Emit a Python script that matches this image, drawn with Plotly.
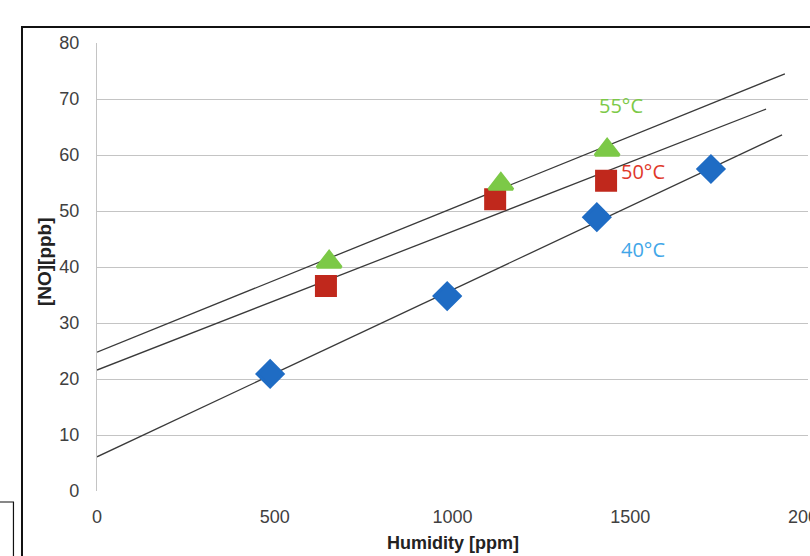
import plotly.graph_objects as go

# ---- data ----
humidity_40 = [487, 985, 1406, 1727]
no_40 = [20.9, 34.8, 48.9, 57.5]
humidity_50 = [644, 1120, 1432]
no_50 = [36.6, 52.1, 55.4]
humidity_55 = [653, 1136, 1435]
no_55 = [40.9, 54.8, 60.9]

# trend lines (start x, end x, start y, end y)
trend_x_40 = [0, 1927]
trend_y_40 = [6.1, 63.6]
trend_x_50 = [0, 1882]
trend_y_50 = [21.6, 68.2]
trend_x_55 = [0, 1935]
trend_y_55 = [24.8, 74.5]

x_ticks = [0, 500, 1000, 1500, 2000]
y_ticks = [0, 10, 20, 30, 40, 50, 60, 70, 80]

labels = ["55°C", "50°C", "40°C"]
label_x = [1475, 1535, 1535]
label_y = [68.8, 57.0, 43.2]

BLUE = "#1f6cc4"
RED = "#c0281c"
GREEN = "#7cc947"

fig = go.Figure()

for tx, ty in [(trend_x_55, trend_y_55), (trend_x_50, trend_y_50), (trend_x_40, trend_y_40)]:
    fig.add_trace(go.Scatter(x=tx, y=ty, mode="lines",
                             line=dict(color="#3a3a3a", width=1.3),
                             showlegend=False, hoverinfo="skip"))

fig.add_trace(go.Scatter(x=humidity_40, y=no_40, mode="markers",
                         marker=dict(symbol="diamond", size=20, color=BLUE,
                                     line=dict(color=BLUE, width=3)),
                         showlegend=False))
fig.add_trace(go.Scatter(x=humidity_50, y=no_50, mode="markers",
                         marker=dict(symbol="square", size=19, color=RED,
                                     line=dict(color=RED, width=3)),
                         showlegend=False))
fig.add_trace(go.Scatter(x=humidity_55, y=no_55, mode="markers",
                         marker=dict(symbol="triangle-up", size=21, color=GREEN,
                                     line=dict(color=GREEN, width=3)),
                         showlegend=False))

label_colors = [GREEN, "#e0382a", "#41a6e8"]
for t, lx, ly, c in zip(labels, label_x, label_y, label_colors):
    fig.add_annotation(x=lx, y=ly, text=t, showarrow=False,
                       font=dict(family="Open Sans", size=20, color=c))

# axis titles
fig.add_annotation(xref="paper", yref="paper", x=0.5, y=-0.115, yanchor="middle",
                   text="<b>Humidity [ppm]</b>", showarrow=False,
                   font=dict(family="Liberation Sans", size=18, color="#222"))
fig.add_annotation(xref="paper", yref="paper", x=-0.0745, y=0.511, xanchor="center",
                   text="<b>[NO][ppb]</b>", textangle=-90, showarrow=False,
                   font=dict(family="Liberation Sans", size=19, color="#222"))

# outer frame (top and left edges) and small box bottom-left
fig.add_shape(type="path", xref="paper", yref="paper",
              path="M -0.1055 -0.2 L -0.1055 1.0357 L 1.02 1.0357",
              line=dict(color="#111", width=2))
fig.add_shape(type="rect", xref="paper", yref="paper",
              x0=-0.14, x1=-0.1175, y0=-0.0246, y1=-0.2,
              line=dict(color="#111", width=1.2))

fig.update_xaxes(range=[0, 2000], tickvals=x_ticks, showgrid=False,
                 zeroline=False, showline=False, ticklabeloverflow="allow",
                 ticks="outside", ticklen=9, tickcolor="rgba(0,0,0,0)",
                 tickfont=dict(family="Liberation Sans", size=18, color="#404040"))
fig.update_yaxes(range=[0, 80], tickvals=y_ticks, showgrid=True,
                 gridcolor="#c4c4c4", gridwidth=1.3,
                 zeroline=False, showline=True, linecolor="#c4c4c4", linewidth=1.3,
                 ticks="outside", ticklen=13, tickcolor="rgba(0,0,0,0)",
                 tickfont=dict(family="Liberation Sans", size=18, color="#404040"))

fig.update_layout(width=810, height=556,
                  margin=dict(l=97, r=2, t=43, b=65, autoexpand=False),
                  plot_bgcolor="white", paper_bgcolor="white")

fig.write_html("out.html", config={"displayModeBar": False},
               post_script="document.body.style.margin='0';document.body.style.overflow='hidden';")
